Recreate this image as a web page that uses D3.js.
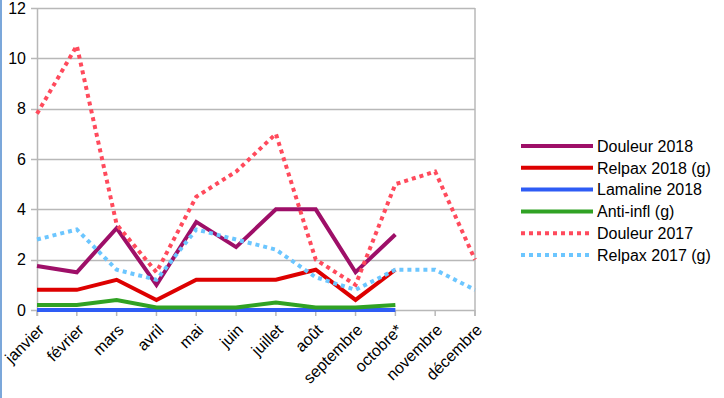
<!DOCTYPE html>
<html><head><meta charset="utf-8">
<script src="https://cdn.jsdelivr.net/npm/d3@7"></script>
<style>body{margin:0;background:#fff;} svg{display:block;font-family:"Liberation Sans",Arial,sans-serif;}</style>
</head><body>
<script>
const months = ["janvier","février","mars","avril","mai","juin","juillet","août","septembre","octobre*","novembre","décembre"];
const yTicks = [0,2,4,6,8,10,12];
const douleur2018 = [1.75,1.5,3.25,1.0,3.5,2.5,4.0,4.0,1.5,3.0];
const relpax2018 = [0.8,0.8,1.2,0.4,1.2,1.2,1.2,1.6,0.4,1.6];
const lamaline2018 = [0,0,0,0,0,0,0,0,0,0];
const antiInfl = [0.2,0.2,0.4,0.1,0.1,0.1,0.3,0.1,0.1,0.2];
const douleur2017 = [7.8,10.5,3.4,1.5,4.5,5.5,7.0,2.0,1.0,5.0,5.5,2.0];
const relpax2017 = [2.8,3.2,1.6,1.2,3.2,2.8,2.4,1.3,0.8,1.6,1.6,0.8];
const seriesNames = ["Douleur 2018","Relpax 2018 (g)","Lamaline 2018","Anti-infl (g)","Douleur 2017","Relpax 2017 (g)"];

const series = [
  {name:seriesNames[0], values:douleur2018, color:"#9e0f68", dash:null},
  {name:seriesNames[1], values:relpax2018, color:"#dd0000", dash:null},
  {name:seriesNames[2], values:lamaline2018, color:"#2e5cf5", dash:null},
  {name:seriesNames[3], values:antiInfl, color:"#30a224", dash:null},
  {name:seriesNames[4], values:douleur2017, color:"#ff4a5c", dash:"4,4"},
  {name:seriesNames[5], values:relpax2017, color:"#6cc6ff", dash:"4,4"}
];

const W=724,H=398;
const svg=d3.select("body").append("svg").attr("width",W).attr("height",H);
svg.append("rect").attr("x",0).attr("y",0).attr("width",2).attr("height",H).attr("fill","#7ba7da");

const x=d3.scalePoint().domain(months).range([37,475]);
const y=d3.scaleLinear().domain([0,12]).range([310,8]);
const grid="#b8b8b8";

// gridlines
svg.append("g").selectAll("line").data(yTicks).join("line")
  .attr("x1",31).attr("x2",475).attr("y1",d=>Math.round(y(d))+0.5).attr("y2",d=>Math.round(y(d))+0.5)
  .attr("stroke",grid).attr("stroke-width",1.5);
// left axis & right border
svg.append("line").attr("x1",37.5).attr("x2",37.5).attr("y1",y(12)).attr("y2",316).attr("stroke",grid).attr("stroke-width",1.5);
svg.append("line").attr("x1",475).attr("x2",475).attr("y1",y(12)).attr("y2",316).attr("stroke",grid).attr("stroke-width",1.5);
// x ticks
svg.append("g").selectAll("line").data(months).join("line")
  .attr("x1",d=>x(d)).attr("x2",d=>x(d)).attr("y1",310).attr("y2",316)
  .attr("stroke",grid).attr("stroke-width",1.5);
// y labels
svg.append("g").selectAll("text").data(yTicks).join("text")
  .attr("x",26).attr("y",d=>y(d)).attr("dy","0.36em").attr("text-anchor","end")
  .attr("font-size",16).attr("fill","#000").text(d=>d);
// x labels
svg.append("g").selectAll("text").data(months).join("text")
  .attr("transform",d=>`translate(${x(d)+8},${331}) rotate(-45)`)
  .attr("text-anchor","end").attr("font-size",16).attr("fill","#000").text(d=>d);

const line=d3.line().x((d,i)=>x(months[i])).y(d=>y(d));
series.forEach(s=>{
  svg.append("path").datum(s.values).attr("d",line).attr("fill","none")
    .attr("stroke",s.color).attr("stroke-width",4)
    .attr("stroke-dasharray",s.dash).attr("stroke-linejoin","miter");
});

// legend
const lg=svg.append("g");
series.forEach((s,i)=>{
  const yy=146+i*21.8;
  lg.append("line").attr("x1",521).attr("x2",593).attr("y1",yy).attr("y2",yy)
    .attr("stroke",s.color).attr("stroke-width",4).attr("stroke-dasharray",s.dash);
  lg.append("text").attr("x",597).attr("y",yy).attr("dy","0.36em").attr("font-size",16).attr("fill","#000").text(s.name);
});
</script>
</body></html>
